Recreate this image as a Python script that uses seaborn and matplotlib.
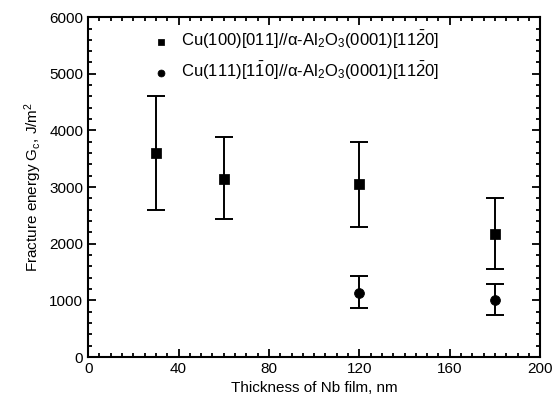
import matplotlib
matplotlib.use("Agg")
import matplotlib.pyplot as plt
import seaborn as sns
import pandas as pd
from matplotlib.ticker import MultipleLocator

# ===== data =====
x_100 = [30, 60, 120, 180]
g_100 = [3600, 3150, 3050, 2180]
g_100_hi = [4600, 3880, 3800, 2800]
g_100_lo = [2600, 2430, 2300, 1560]

x_111 = [120, 180]
g_111 = [1130, 1010]
g_111_hi = [1430, 1290]
g_111_lo = [860, 740]

label_100 = "Cu(100)[011]//α-Al$_2$O$_3$(0001)[11$\\bar{2}$0]"
label_111 = "Cu(111)[1$\\bar{1}$0]//α-Al$_2$O$_3$(0001)[11$\\bar{2}$0]"

sns.set_style("ticks")
plt.rcParams['font.family'] = ['Liberation Sans', 'DejaVu Sans']
plt.rcParams['mathtext.fontset'] = 'custom'
plt.rcParams['mathtext.rm'] = 'Liberation Sans'
plt.rcParams['mathtext.it'] = 'Liberation Sans'
plt.rcParams['text.color'] = 'black'
plt.rcParams['axes.labelcolor'] = 'black'
plt.rcParams['xtick.color'] = 'black'
plt.rcParams['ytick.color'] = 'black'
plt.rcParams['axes.edgecolor'] = 'black'

df100 = pd.DataFrame({"x": x_100, "g": g_100, "hi": g_100_hi, "lo": g_100_lo})
df111 = pd.DataFrame({"x": x_111, "g": g_111, "hi": g_111_hi, "lo": g_111_lo})

fig = plt.figure(figsize=(5.58, 4.09), dpi=100)
ax = fig.add_axes([0.158, 0.127, 0.81, 0.831])

for d in (df100, df111):
    ax.errorbar(d["x"], d["g"], yerr=[d["g"] - d["lo"], d["hi"] - d["g"]],
                fmt="none", ecolor="black", elinewidth=1.4, capsize=6.5, capthick=1.4)

sns.scatterplot(data=df100, x="x", y="g", marker="s", s=45, color="black",
                edgecolor="black", ax=ax, label=label_100, zorder=3)
sns.scatterplot(data=df111, x="x", y="g", marker="o", s=50, color="black",
                edgecolor="black", ax=ax, label=label_111, zorder=3)

ax.set_xlim(0, 200)
ax.set_ylim(0, 6000)
ax.xaxis.set_major_locator(MultipleLocator(40))
ax.xaxis.set_minor_locator(MultipleLocator(5))
ax.yaxis.set_major_locator(MultipleLocator(1000))
ax.yaxis.set_minor_locator(MultipleLocator(200))
ax.tick_params(which="both", direction="in", top=True, right=True, labelsize=11, width=1.3)
ax.tick_params(which="major", length=6)
ax.tick_params(which="minor", length=3)
for sp in ax.spines.values():
    sp.set_linewidth(1.5)

ax.set_xlabel("Thickness of Nb film, nm", fontsize=11)
ax.set_ylabel("Fracture energy G$_c$, J/m$^2$", fontsize=11)

leg = ax.legend(loc="upper left", bbox_to_anchor=(0.09, 1.01), frameon=False,
                fontsize=12, handletextpad=0.2, labelspacing=0.55, markerscale=0.7)

fig.savefig("out.png", dpi=100)
